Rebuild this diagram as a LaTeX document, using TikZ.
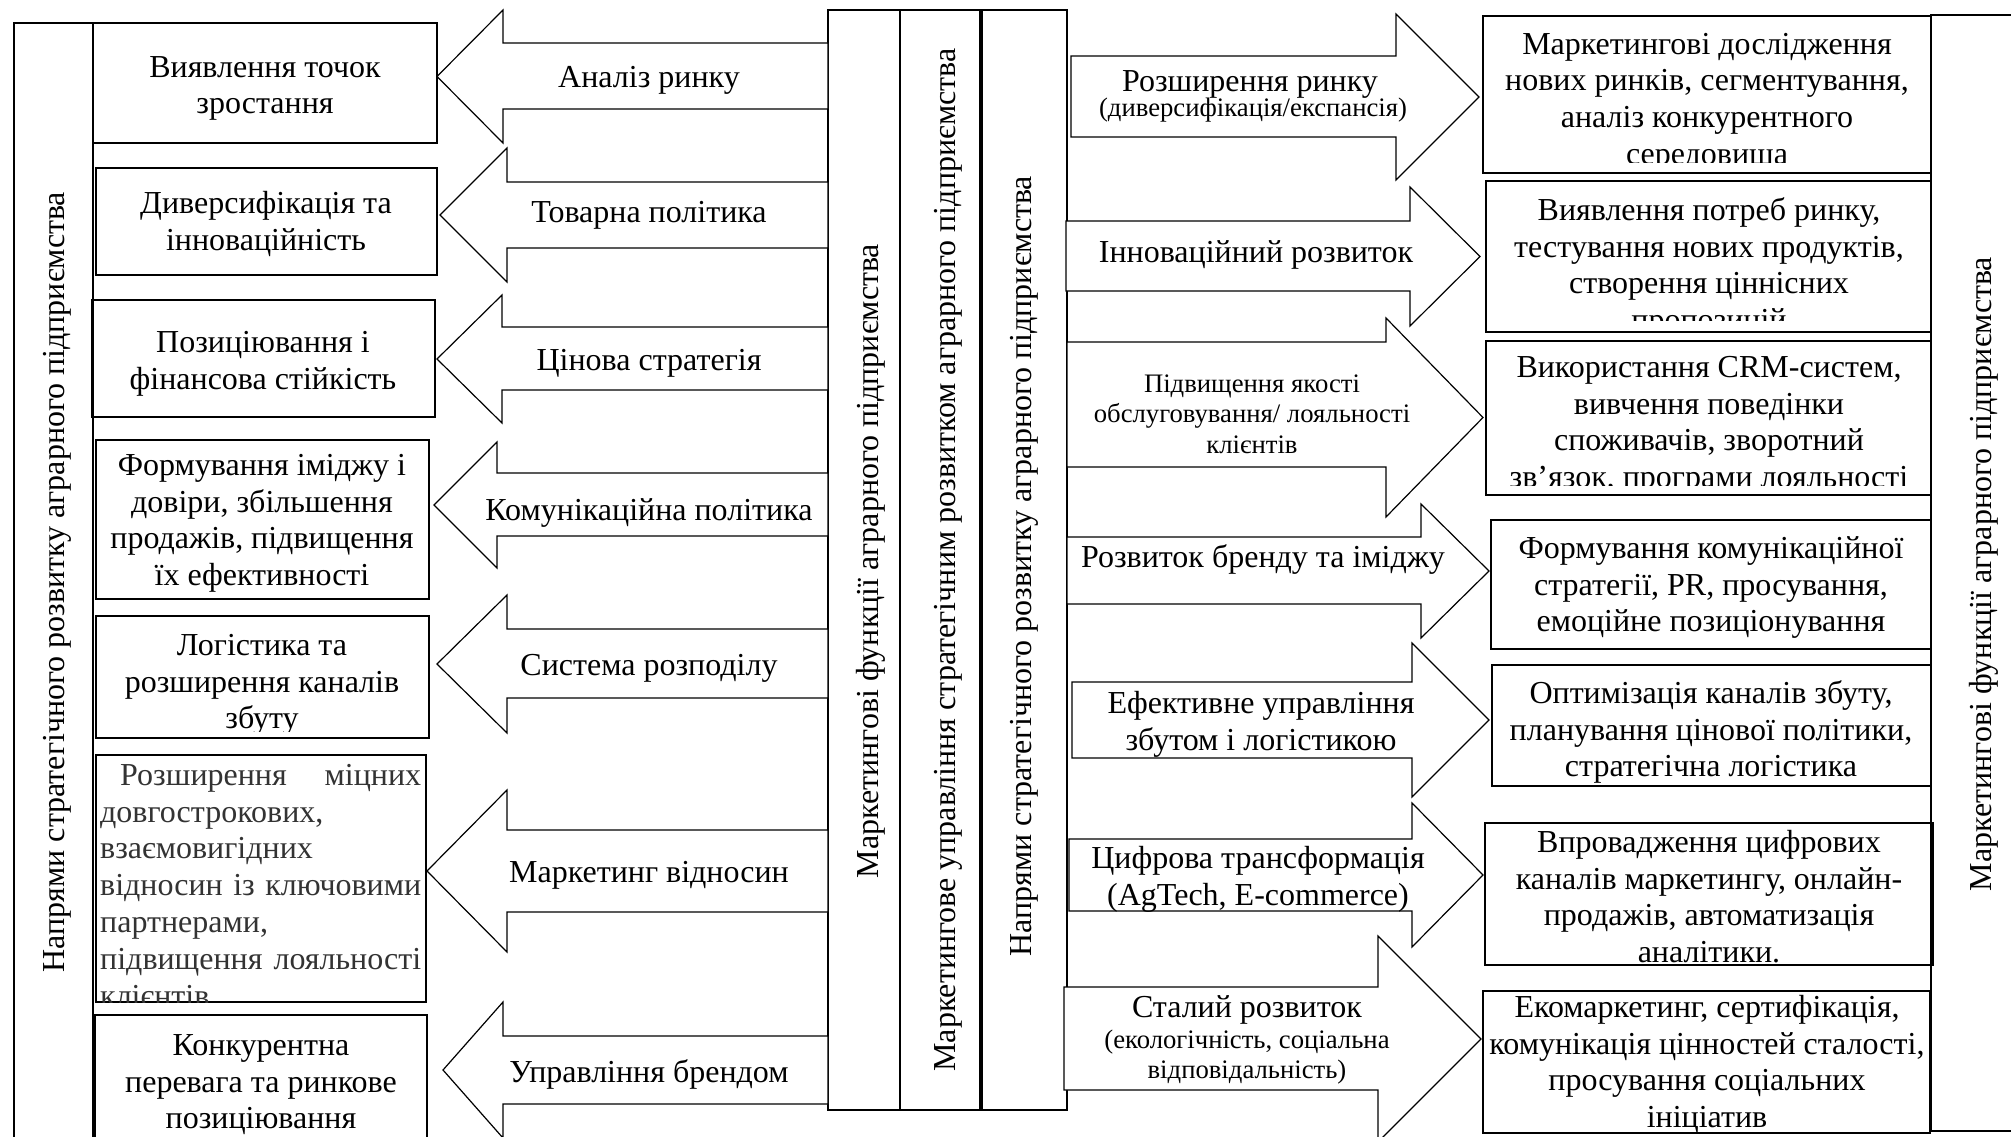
\documentclass[tikz,border=0pt]{standalone}
\usepackage{fontspec}
\setmainfont{Liberation Serif}
\newcommand\bigf{\fontsize{32}{36.8}\selectfont}
\newcommand\smf{\fontsize{26.7}{30.7}\selectfont}
\newcommand\fs{\rule{0pt}{28pt}}
\newcommand\fss{\rule{0pt}{23pt}}
% name, x1, y1, x2, y2
\newcommand\boxnode[5]{\node[bx,anchor=north west,minimum width=#4pt-#2pt,minimum height=#5pt-#3pt] (#1) at (#2,#3) {};}
% name, tipx, headx, headtop, headbottom, shafttop, shaftbottom, tailx
\newcommand\blockarrow[8]{%
  \draw[blk] (#3,#4) -- (#2,{(#4+#5)/2}) -- (#3,#5) -- (#3,#7) -- (#8,#7) -- (#8,#6) -- (#3,#6) -- cycle;
  \coordinate (#1) at ({(#3+#8)/2},{(#6+#7)/2});}
\tikzset{
  bx/.style={draw,line width=1.2pt,inner sep=0pt,outer sep=0pt},
  blk/.style={draw,fill=white,line width=1.2pt,line join=miter},
  tx/.style={font=\bigf,inner sep=0pt,align=center,anchor=north},
  txs/.style={font=\smf,inner sep=0pt,align=center,anchor=north},
  lb/.style={font=\bigf,inner sep=0pt,anchor=base},
  lbs/.style={font=\smf,inner sep=0pt,anchor=base},
  vt/.style={font=\bigf,inner sep=0pt,rotate=90}
}
\begin{document}
\begin{tikzpicture}[x=1pt,y=-1pt]
\useasboundingbox (0,0) rectangle (2011,1137);
\clip (0,0) rectangle (2011,1137);
\fill[white] (0,0) rectangle (2011,1137);

% vertical bands
\boxnode{L0}{14}{23}{93}{1160}
\boxnode{R0}{1931}{15}{2040}{1131}
\boxnode{cA}{828}{10}{900}{1110}
\boxnode{cB}{900}{10}{980}{1110}
\boxnode{cC}{982}{10}{1067}{1110}
\node[vt] (tL0) at (57,582) {Напрями стратегічного розвитку аграрного підприємства};
\node[vt] (tcA) at (871,561) {Маркетингові функції аграрного підприємства};
\node[vt] (tcB) at (948,560) {Маркетингове управління стратегічним розвитком аграрного підприємства};
\node[vt] (tcC) at (1024,566) {Напрями стратегічного розвитку аграрного підприємства};
\node[vt] (tR0) at (1984,574) {Маркетингові функції аграрного підприємства};

% left boxes
\boxnode{b1}{93}{23}{437}{143}
\boxnode{b2}{96}{168}{437}{275}
\boxnode{b3}{92}{300}{435}{417}
\boxnode{b4}{96}{440}{429}{599}
\boxnode{b5}{96}{616}{429}{738}
\boxnode{b6}{96}{755}{426}{1002}
\boxnode{b7}{95}{1015}{427}{1160}
\node[tx] (tb1) at (265,49) {\fs Виявлення точок\\зростання};
\node[tx] (tb2) at (266,185) {\fs Диверсифікація та\\інноваційність};
\node[tx] (tb3) at (263,324) {\fs Позиціювання і\\фінансова стійкість};
\node[tx] (tb4) at (262,447) {\fs Формування іміджу і\\довіри, збільшення\\продажів, підвищення\\їх ефективності};
\begin{scope}
\clip (96,616) rectangle (429,731);
\node[tx] (tb5) at (262,627) {\fs Логістика та\\розширення каналів\\збуту};
\end{scope}
\begin{scope}
\clip (96,755) rectangle (426,1002);
\node[tx,align=left,anchor=north west,text=black!80] (tb6) at (100,757) {\fs\makebox[321pt][s]{\hspace{20pt}Розширення\hfill міцних}\\довгострокових,\\взаємовигідних\\\makebox[321pt][s]{відносин\hfill із\hfill ключовими}\\партнерами,\\\makebox[321pt][s]{підвищення\hfill лояльності}\\клієнтів};
\end{scope}
\node[tx] (tb7) at (261,1027) {\fs Конкурентна\\перевага та ринкове\\позиціювання};

% left block arrows
\blockarrow{a1}{437}{503}{10}{143}{43}{109}{828}
\blockarrow{a2}{440}{507}{148}{282}{182}{248}{828}
\blockarrow{a3}{437}{502}{295}{423}{327}{390}{828}
\blockarrow{a4}{434}{497}{442}{568}{473}{536}{828}
\blockarrow{a5}{437}{507}{595}{733}{629}{698}{828}
\blockarrow{a6}{427}{507}{790}{952}{830}{912}{828}
\blockarrow{a7}{443}{503}{1002}{1138}{1036}{1104}{828}
\node[lb] (la1) at (649,88) {Аналіз ринку};
\node[lb] (la2) at (649,222) {Товарна політика};
\node[lb] (la3) at (649,370) {Цінова стратегія};
\node[lb] (la4) at (649,520) {Комунікаційна політика};
\node[lb] (la5) at (649,675) {Система розподілу};
\node[lb] (la6) at (649,882) {Маркетинг відносин};
\node[lb] (la7) at (649,1082) {Управління брендом};

% right block arrows
\blockarrow{ra1}{1479}{1396}{14}{180}{56}{137}{1071}
\blockarrow{ra2}{1480}{1410}{187}{326}{221}{291}{1066}
\blockarrow{ra3}{1483}{1386}{318}{517}{342}{467}{1067}
\blockarrow{ra4}{1489}{1421}{504}{638}{537}{604}{1067}
\blockarrow{ra5}{1489}{1412}{643}{797}{682}{758}{1072}
\blockarrow{ra6}{1483}{1412}{803}{947}{839}{911}{1069}
\blockarrow{ra7}{1481}{1378}{936}{1142}{987}{1090}{1064}
\node[lb] (lr1) at (1250,92) {Розширення ринку};
\node[lbs] (lr1s) at (1253,117) {(диверсифікація/експансія)};
\node[lb] (lr2) at (1256,262) {Інноваційний розвиток};
\node[txs] (lr3) at (1252,369) {\fss Підвищення якості\\обслуговування/ лояльності\\клієнтів};
\node[lb] (lr4) at (1263,567) {Розвиток бренду та іміджу};
\node[tx] (lr5) at (1261,685) {\fs Ефективне управління\\збутом і логістикою};
\node[tx] (lr6) at (1258,840) {\fs Цифрова трансформація\\(AgTech, E-commerce)};
\node[lb] (lr7) at (1247,1017) {Сталий розвиток};
\node[txs] (lr7s) at (1247,1025) {\fss(екологічність, соціальна\\відповідальність)};

% right boxes
\boxnode{r1}{1483}{16}{1931}{173}
\boxnode{r2}{1486}{181}{1931}{332}
\boxnode{r3}{1486}{341}{1931}{495}
\boxnode{r4}{1491}{520}{1931}{649}
\boxnode{r5}{1492}{665}{1931}{786}
\boxnode{r6}{1485}{823}{1933}{965}
\boxnode{r7}{1483}{991}{1930}{1133}
\begin{scope}
\clip (1483,16) rectangle (1931,163);
\node[tx] (tr1) at (1707,26) {\fs Маркетингові дослідження\\нових ринків, сегментування,\\аналіз конкурентного\\середовища};
\end{scope}
\begin{scope}
\clip (1486,181) rectangle (1931,320);
\node[tx] (tr2) at (1709,192) {\fs Виявлення потреб ринку,\\тестування нових продуктів,\\створення ціннісних\\пропозицій};
\end{scope}
\begin{scope}
\clip (1486,341) rectangle (1931,485);
\node[tx] (tr3) at (1709,349) {\fs Використання CRM-систем,\\вивчення поведінки\\споживачів, зворотний\\зв’язок, програми лояльності};
\end{scope}
\node[tx] (tr4) at (1711,530) {\fs Формування комунікаційної\\стратегії, PR, просування,\\емоційне позиціонування};
\node[tx] (tr5) at (1711,675) {\fs Оптимізація каналів збуту,\\планування цінової політики,\\стратегічна логістика};
\begin{scope}
\clip (1485,823) rectangle (1933,965);
\node[tx] (tr6) at (1709,824) {\fs Впровадження цифрових\\каналів маркетингу, онлайн-\\продажів, автоматизація\\аналітики.};
\end{scope}
\begin{scope}
\clip (1483,991) rectangle (1930,1133);
\node[tx] (tr7) at (1707,989) {\fs Екомаркетинг, сертифікація,\\комунікація цінностей сталості,\\просування соціальних\\ініціатив};
\end{scope}
\end{tikzpicture}
\end{document}
